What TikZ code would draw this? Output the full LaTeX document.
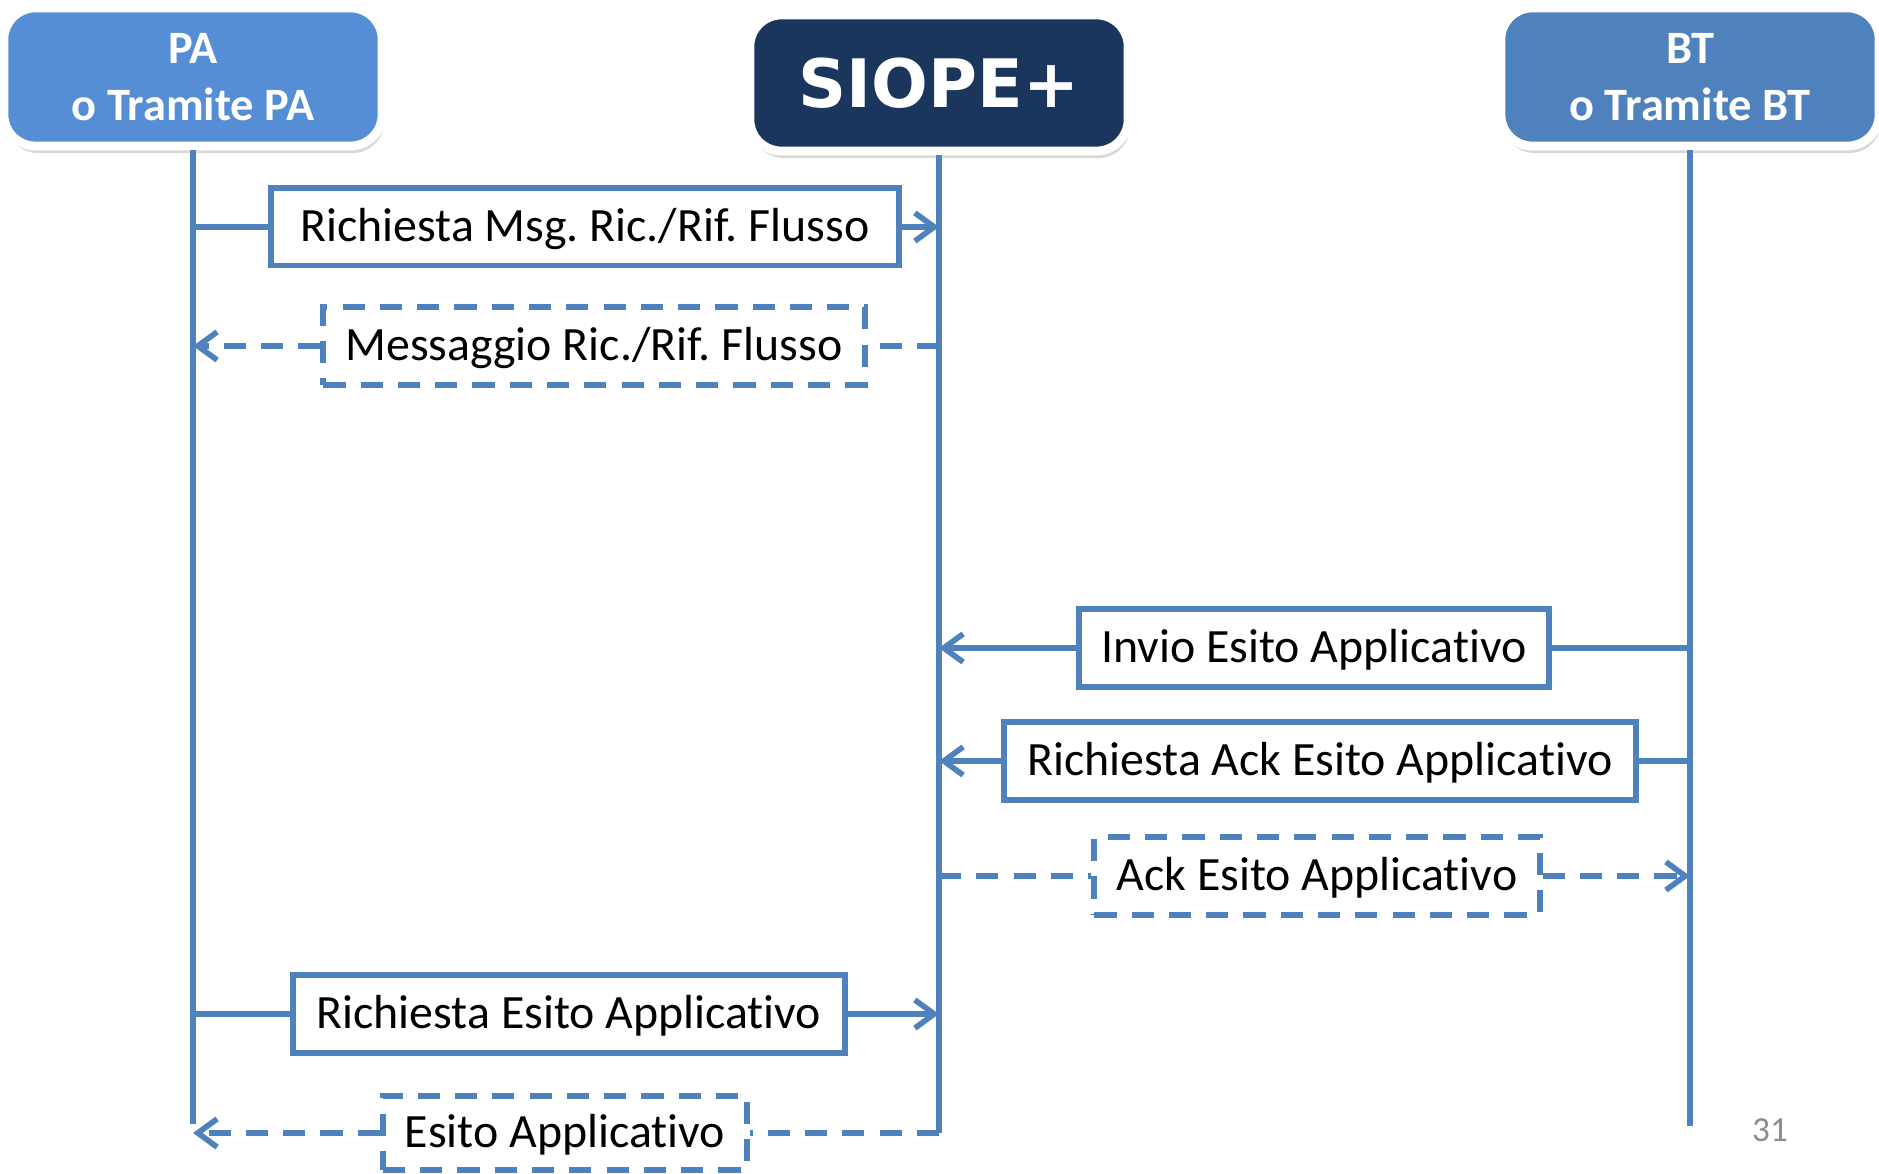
\documentclass[tikz,border=0pt]{standalone}
\usepackage{fontspec}
\setmainfont{Carlito}[Ligatures=NoCommon]
\newfontfamily\siopefont{DejaVu Sans}
\usepackage{xcolor}
\usetikzlibrary{positioning, arrows.meta, shadows}
\definecolor{H1}{HTML}{4F81BD}
\definecolor{H2}{HTML}{558ED5}
\definecolor{H3}{HTML}{1B365D}
\definecolor{H4}{HTML}{8C8C8C}
\frenchspacing

\begin{document}
\begin{tikzpicture}[
	x=0.01cm, y=-0.01cm,
	hvertex/.style = {rectangle, rounded corners=9pt, draw=white, line width=2.5pt, text=white, align=center,
		minimum width=3.78cm, minimum height=1.38cm, font=\bfseries\fontsize{13.2}{16.4}\selectfont,
		drop shadow={shadow xshift=0.6pt, shadow yshift=-2pt, opacity=0.3}},
	vertex/.style = {draw=H1, rectangle, line width=1.7pt, fill=white, inner sep=0pt,
		minimum height=0.77cm, text depth=0.2em, text height=1em, font=\fontsize{13.6}{16}\selectfont},
	dvertex/.style = {vertex, dash pattern=on 6.3pt off 4.3pt},
	life/.style = {draw=H1, line width=1.6pt},
	plain/.style = {-},
	reply/.style = {dash pattern=on 6.3pt off 4.3pt},
	every edge/.style = {draw=H1, line width=1.6pt, -{Straight Barb[length=5.5pt, width=8pt, line width=1.6pt]}}
]
  \useasboundingbox (0,0) rectangle (1879,1174);

  % Define actors
  \node[hvertex, fill=H2] at (193, 77) (pa) {PA\\o Tramite PA};
  \node[hvertex, fill=H3, minimum height=1.36cm, font=\siopefont\bfseries\fontsize{19}{22}\selectfont] at (939, 83) (siope) {SIOPE+};
  \node[hvertex, fill=H1] at (1690, 77) (bt) {BT\\o Tramite BT};

  % Lifelines
  \coordinate (paend) at (193, 1124);
  \coordinate (siopeend) at (939, 1133);
  \coordinate (btend) at (1690, 1126);
  \draw[life] (pa.south) -- (paend);
  \draw[life] (siope.south) -- (siopeend);
  \draw[life] (bt.south) -- (btend);

  % Define messages
  \node[vertex, minimum width=6.27cm] at (585, 227) (m1) {Richiesta Msg. Ric./Rif. Flusso};
  \node[dvertex, minimum width=5.41cm] at (594, 346) (m2) {Messaggio Ric./Rif. Flusso};
  \node[vertex, minimum width=4.69cm] at (1314, 648) (m3) {Invio Esito Applicativo};
  \node[vertex, minimum width=6.32cm] at (1320, 761) (m4) {Richiesta Ack Esito Applicativo};
  \node[dvertex, minimum width=4.45cm] at (1317, 876) (m5) {Ack Esito Applicativo};
  \node[vertex, minimum width=5.51cm] at (569, 1014) (m6) {Richiesta Esito Applicativo};
  \node[dvertex, minimum width=3.64cm, minimum height=0.74cm] at (565, 1133) (m7) {Esito Applicativo};

  % Points on the lifelines
  \coordinate (pa1) at (pa |- m1);
  \coordinate (siope1) at (siope |- m1);
  \coordinate (pa2) at (pa |- m2);
  \coordinate (siope2) at (siope |- m2);
  \coordinate (siope3) at (siope |- m3);
  \coordinate (bt3) at (bt |- m3);
  \coordinate (siope4) at (siope |- m4);
  \coordinate (bt4) at (bt |- m4);
  \coordinate (siope5) at (siope |- m5);
  \coordinate (bt5) at (bt |- m5);
  \coordinate (pa6) at (pa |- m6);
  \coordinate (siope6) at (siope |- m6);
  \coordinate (pa7) at (pa |- m7);

  \draw (pa1) edge[plain] (m1);
  \draw (m1) edge (siope1);
  \draw (siope2) edge[plain, reply] (m2);
  \draw (m2) edge[reply] (pa2);
  \draw (bt3) edge[plain] (m3);
  \draw (m3) edge (siope3);
  \draw (bt4) edge[plain] (m4);
  \draw (m4) edge (siope4);
  \draw (siope5) edge[plain, reply] (m5);
  \draw (m5) edge[reply] (bt5);
  \draw (pa6) edge[plain] (m6);
  \draw (m6) edge (siope6);
  \draw (siopeend) edge[plain, reply] (m7);
  \draw (m7) edge[reply] (pa7);

  \node[text=H4, font=\fontsize{10}{12}\selectfont] at (1770, 1130) (page) {31};
\end{tikzpicture}
\end{document}
